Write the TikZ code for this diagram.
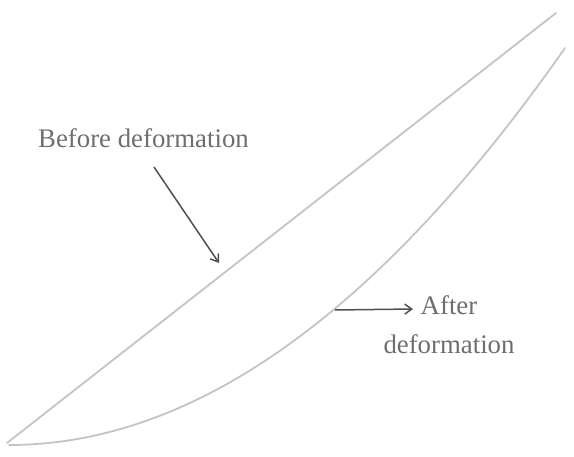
\documentclass[tikz,border=0pt]{standalone}
\usepackage{fontspec}
\setmainfont{Liberation Serif}
\usetikzlibrary{arrows.meta}
\definecolor{linegray}{HTML}{C4C4C4}
\definecolor{textgray}{HTML}{6E6E6E}
\definecolor{arrowgray}{HTML}{505050}
\begin{document}
\begin{tikzpicture}[x=1pt,y=-1pt,
  shape line/.style={draw=linegray,line width=1.8pt,line cap=round},
  pointer/.style={draw=arrowgray,line width=1.5pt,-{Straight Barb[length=7pt,width=10pt,line width=1.5pt]}},
  lbl/.style={text=textgray,font=\fontsize{26.8}{39}\selectfont,inner sep=0pt,align=center}]
\useasboundingbox (0,0) rectangle (574,457);
% before deformation: straight line
\coordinate (b0) at (7,443);
\coordinate (b1) at (556,13);
\draw[shape line] (b0) -- (b1);
% after deformation: parabolic curve
\coordinate (a0) at (9,445);
\coordinate (ac1) at (194.3,445);
\coordinate (ac2) at (379.7,312.7);
\coordinate (a1) at (565,48);
\draw[shape line] (a0) .. controls (ac1) and (ac2) .. (a1);
% labels
\node[lbl,anchor=base west] (before) at (38,148) {Before deformation};
\node[lbl,anchor=base] (after) at (449,354) {After\\deformation};
\coordinate (bs) at (154,167);
\coordinate (be) at (219,263);
\coordinate (as) at (335,310);
\coordinate (ae) at (413,309);
\draw[pointer] (bs) -- (be);
\draw[pointer] (as) -- (ae);
\end{tikzpicture}
\end{document}
